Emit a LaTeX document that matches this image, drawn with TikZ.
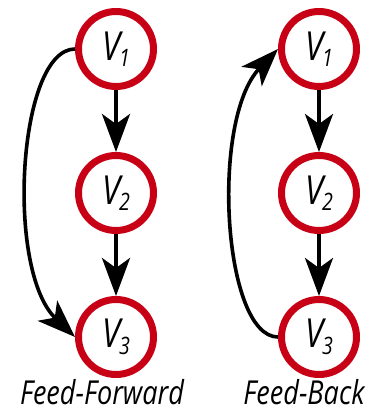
\documentclass[tikz,border=0pt]{standalone}
\usepackage{fontspec}
\setmainfont{Open Sans}
\newfontfamily\lblfont[FakeStretch=0.82]{Open Sans}
\usetikzlibrary{arrows.meta}
\definecolor{vred}{RGB}{200,0,22}
\tikzset{
  vnode/.style={circle, draw=vred, line width=7pt, fill=white, minimum size=75pt, inner sep=0pt, font=\lblfont\fontsize{40}{40}\selectfont\itshape},
  edge/.style={line width=3.6pt, -{Stealth[length=38pt, width=28pt, inset=10pt]}},
  caption/.style={font=\lblfont\fontsize{33}{33}\selectfont\itshape, inner sep=0pt}
}
\newcommand{\vlab}[1]{V\kern-1pt\raisebox{-0.3ex}{\fontsize{24}{24}\selectfont #1}}
\begin{document}
\begin{tikzpicture}[x=1pt,y=-1pt]
\useasboundingbox (0,0) rectangle (378,413);
\node[vnode] (a1) at (116,49) {\vlab{1}};
\node[vnode] (a2) at (116,193) {\vlab{2}};
\node[vnode] (a3) at (116,337) {\vlab{3}};
\node[vnode] (b1) at (319,49) {\vlab{1}};
\node[vnode] (b2) at (319,193) {\vlab{2}};
\node[vnode] (b3) at (319,337) {\vlab{3}};
\draw[edge] (a1) -- (a2);
\draw[edge] (a2) -- (a3);
\draw[edge] (b1) -- (b2);
\draw[edge] (b2) -- (b3);
\draw[edge] (a1.west) .. controls (18,49) and (5,270) .. (a3.west);
\draw[edge] (b3.west) .. controls (223,337) and (210,120) .. (b1.west);
\node[caption, anchor=base] (c1) at (102,404) {Feed-Forward};
\node[caption, anchor=base] (c2) at (304,404) {Feed-Back};
\end{tikzpicture}
\end{document}
